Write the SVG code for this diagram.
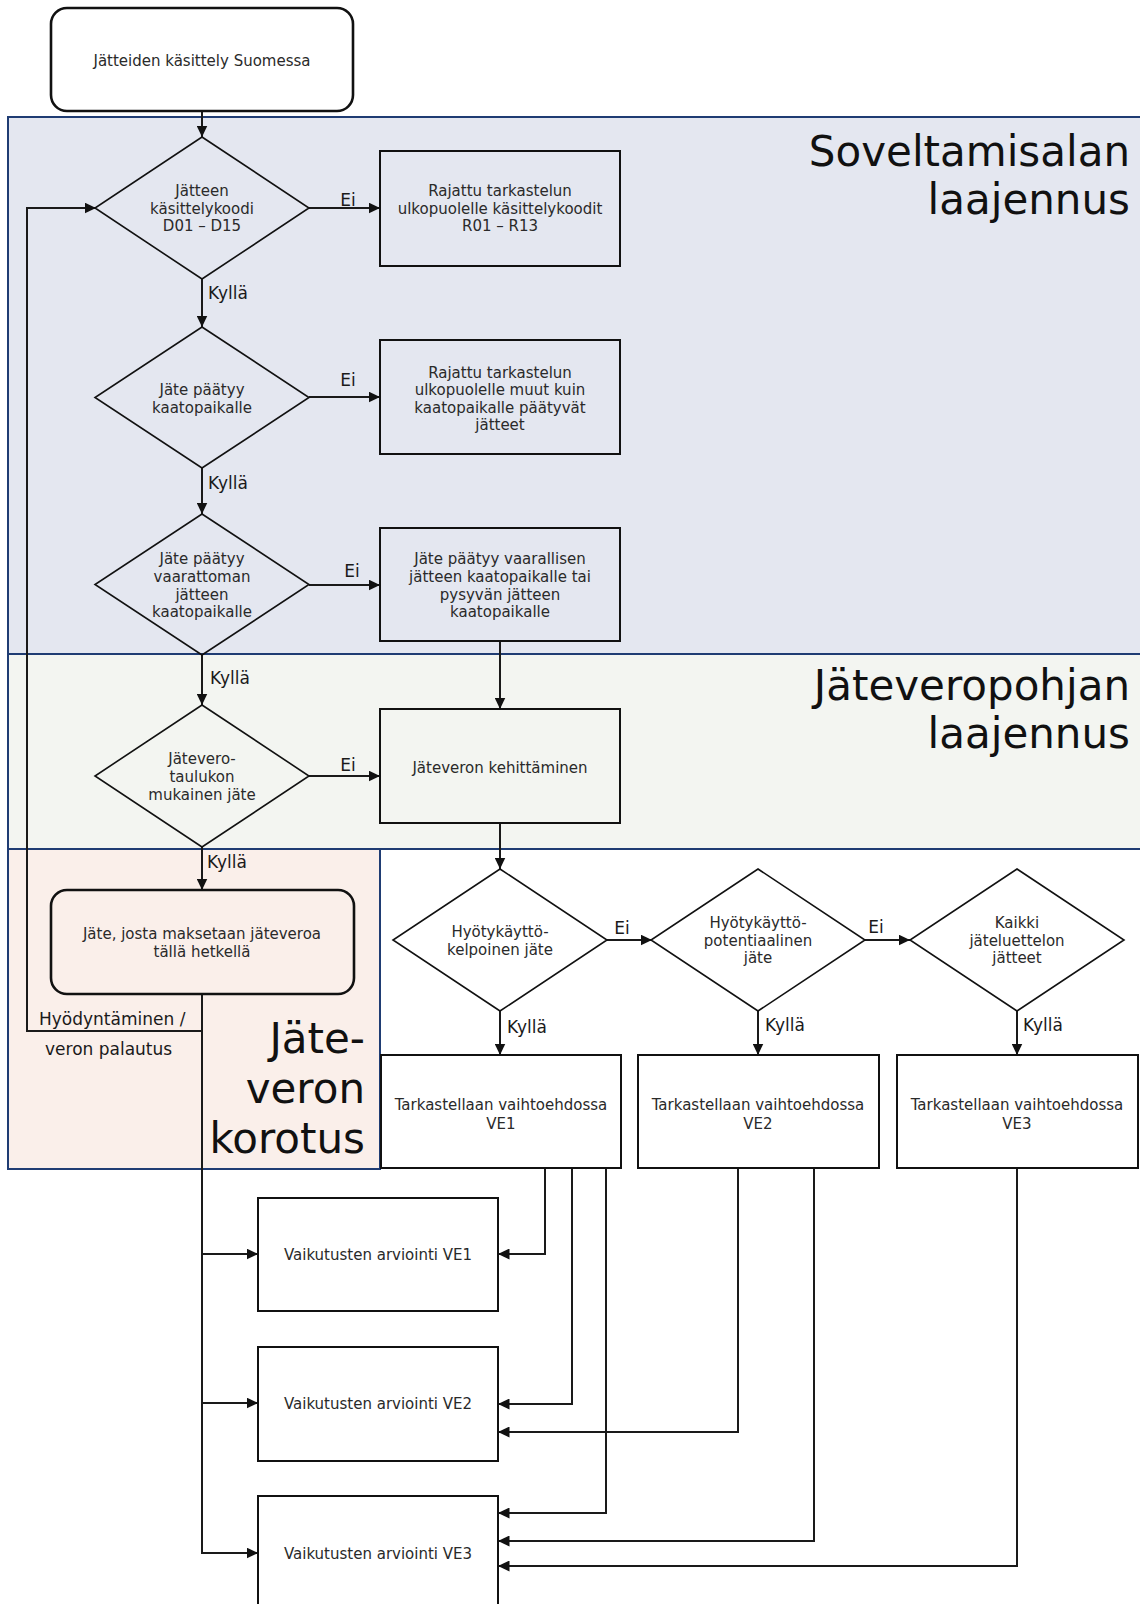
<svg xmlns="http://www.w3.org/2000/svg" width="1140" height="1604" viewBox="0 0 1140 1604">
<defs>
<marker id="ah" markerUnits="userSpaceOnUse" markerWidth="12" markerHeight="11" refX="11.5" refY="5.5" orient="auto">
<path d="M0,0 L11.5,5.5 L0,11 z" fill="#111"/>
</marker>
<style>
.reg{stroke:#1F3C73;stroke-width:2}
.box{fill:none;stroke:#111;stroke-width:2}
.rbox{stroke:#111;stroke-width:2.6}
.dia{fill:none;stroke:#111;stroke-width:1.6}
.con{fill:none;stroke:#1a1a1a;stroke-width:2;marker-end:url(#ah)}
.ln{fill:none;stroke:#1a1a1a;stroke-width:2}
.t{font-family:"DejaVu Sans",Verdana,sans-serif;font-size:15px;fill:#2a2a2a;text-anchor:middle}
.lb{font-family:"DejaVu Sans",Verdana,sans-serif;font-size:17px;fill:#1a1a1a}
.big{font-family:"DejaVu Sans",Verdana,sans-serif;font-size:42px;fill:#111;text-anchor:end}
</style>
</defs>
<rect width="1140" height="1604" fill="#fff"/>
<g id="regions">
<rect class="reg" x="8" y="117" width="1140" height="537" fill="#E4E7F0"/>
<rect class="reg" x="8" y="654" width="1140" height="195" fill="#F3F5F1"/>
<rect class="reg" x="8" y="849" width="372" height="320" fill="#FAEFEA"/>
<text class="big" x="1130" y="166">Soveltamisalan</text>
<text class="big" x="1130" y="214">laajennus</text>
<text class="big" x="1130" y="700">Jäteveropohjan</text>
<text class="big" x="1130" y="748">laajennus</text>
<text class="big" x="365" y="1053">Jäte-</text>
<text class="big" x="365" y="1103">veron</text>
<text class="big" x="365" y="1153">korotus</text>
</g>
<g id="connectors">
<path class="con" d="M202,111 V137"/>
<path class="con" d="M309,208 H380"/>
<path class="con" d="M202,279 V327"/>
<path class="con" d="M309,397 H380"/>
<path class="con" d="M202,468 V514"/>
<path class="con" d="M309,585 H380"/>
<path class="con" d="M202,655 V705"/>
<path class="con" d="M500,641 V709"/>
<path class="con" d="M309,776 H380"/>
<path class="con" d="M202,847 V890"/>
<path class="con" d="M202,1031 H27 V208 H96"/>
<path class="con" d="M202,994 V1553 H258"/>
<path class="con" d="M202,1254 H258"/>
<path class="con" d="M202,1403 H258"/>
<path class="con" d="M500,823 V869"/>
<path class="con" d="M607,940 H652"/>
<path class="con" d="M865,940 H910"/>
<path class="con" d="M500,1011 V1055"/>
<path class="con" d="M758,1011 V1055"/>
<path class="con" d="M1017,1011 V1055"/>
<path class="con" d="M545,1168 V1254 H498"/>
<path class="con" d="M572,1168 V1404 H498"/>
<path class="con" d="M606,1168 V1513 H498"/>
<path class="con" d="M738,1168 V1432 H498"/>
<path class="con" d="M814,1168 V1541 H498"/>
<path class="con" d="M1017,1168 V1566 H498"/>
<text class="lb" x="348" y="206" text-anchor="middle">Ei</text>
<text class="lb" x="348" y="386" text-anchor="middle">Ei</text>
<text class="lb" x="352" y="577" text-anchor="middle">Ei</text>
<text class="lb" x="348" y="771" text-anchor="middle">Ei</text>
<text class="lb" x="622" y="934" text-anchor="middle">Ei</text>
<text class="lb" x="876" y="933" text-anchor="middle">Ei</text>
<text class="lb" x="208" y="299">Kyllä</text>
<text class="lb" x="208" y="489">Kyllä</text>
<text class="lb" x="210" y="684">Kyllä</text>
<text class="lb" x="207" y="868">Kyllä</text>
<text class="lb" x="507" y="1033">Kyllä</text>
<text class="lb" x="765" y="1031">Kyllä</text>
<text class="lb" x="1023" y="1031">Kyllä</text>
<text class="lb" x="39" y="1025">Hyödyntäminen /</text>
<text class="lb" x="45" y="1055">veron palautus</text>
</g>
<g id="start">
<rect class="rbox" x="51" y="8" width="302" height="103" rx="16" fill="#fff"/>
<text class="t" x="202" y="66">Jätteiden käsittely Suomessa</text>
</g>
<g id="d1">
<path class="dia" d="M202,137 L309,208 L202,279 L95,208 z"/>
<text class="t" x="202" y="196">Jätteen</text>
<text class="t" x="202" y="213.5">käsittelykoodi</text>
<text class="t" x="202" y="231">D01 – D15</text>
</g>
<g id="r1">
<rect class="box" x="380" y="151" width="240" height="115"/>
<text class="t" x="500" y="196">Rajattu tarkastelun</text>
<text class="t" x="500" y="213.5">ulkopuolelle käsittelykoodit</text>
<text class="t" x="500" y="231">R01 – R13</text>
</g>
<g id="d2">
<path class="dia" d="M202,327 L309,397.5 L202,468 L95,397.5 z"/>
<text class="t" x="202" y="394.5">Jäte päätyy</text>
<text class="t" x="202" y="412.5">kaatopaikalle</text>
</g>
<g id="r2">
<rect class="box" x="380" y="340" width="240" height="114"/>
<text class="t" x="500" y="377.5">Rajattu tarkastelun</text>
<text class="t" x="500" y="395">ulkopuolelle muut kuin</text>
<text class="t" x="500" y="412.5">kaatopaikalle päätyvät</text>
<text class="t" x="500" y="430">jätteet</text>
</g>
<g id="d3">
<path class="dia" d="M202,514 L309,584.5 L202,655 L95,584.5 z"/>
<text class="t" x="202" y="563.5">Jäte päätyy</text>
<text class="t" x="202" y="582">vaarattoman</text>
<text class="t" x="202" y="599.5">jätteen</text>
<text class="t" x="202" y="617">kaatopaikalle</text>
</g>
<g id="r3">
<rect class="box" x="380" y="528" width="240" height="113"/>
<text class="t" x="500" y="563.5">Jäte päätyy vaarallisen</text>
<text class="t" x="500" y="582">jätteen kaatopaikalle tai</text>
<text class="t" x="500" y="599.5">pysyvän jätteen</text>
<text class="t" x="500" y="617">kaatopaikalle</text>
</g>
<g id="d4">
<path class="dia" d="M202,705 L309,776 L202,847 L95,776 z"/>
<text class="t" x="202" y="763.5">Jätevero-</text>
<text class="t" x="202" y="782">taulukon</text>
<text class="t" x="202" y="800">mukainen jäte</text>
</g>
<g id="r4">
<rect class="box" x="380" y="709" width="240" height="114"/>
<text class="t" x="500" y="772.5">Jäteveron kehittäminen</text>
</g>
<g id="current">
<rect class="rbox" x="51" y="890" width="303" height="104" rx="16" fill="#FAEFEA"/>
<text class="t" x="202" y="938.5">Jäte, josta maksetaan jäteveroa</text>
<text class="t" x="202" y="957">tällä hetkellä</text>
</g>
<g id="d5">
<path class="dia" d="M500,869 L607,940 L500,1011 L393,940 z"/>
<text class="t" x="500" y="936.5">Hyötykäyttö-</text>
<text class="t" x="500" y="954.5">kelpoinen jäte</text>
</g>
<g id="d6">
<path class="dia" d="M758,869 L865,940 L758,1011 L651,940 z"/>
<text class="t" x="758" y="927.5">Hyötykäyttö-</text>
<text class="t" x="758" y="945.5">potentiaalinen</text>
<text class="t" x="758" y="962.5">jäte</text>
</g>
<g id="d7">
<path class="dia" d="M1017,869 L1124,940 L1017,1011 L910,940 z"/>
<text class="t" x="1017" y="927.5">Kaikki</text>
<text class="t" x="1017" y="945.5">jäteluettelon</text>
<text class="t" x="1017" y="962.5">jätteet</text>
</g>
<g id="ve1">
<rect class="box" x="381" y="1055" width="240" height="113" fill="#fff"/>
<text class="t" x="501" y="1109.5">Tarkastellaan vaihtoehdossa</text>
<text class="t" x="501" y="1128.5">VE1</text>
</g>
<g id="ve2">
<rect class="box" x="638" y="1055" width="241" height="113" fill="#fff"/>
<text class="t" x="758" y="1109.5">Tarkastellaan vaihtoehdossa</text>
<text class="t" x="758" y="1128.5">VE2</text>
</g>
<g id="ve3">
<rect class="box" x="897" y="1055" width="241" height="113" fill="#fff"/>
<text class="t" x="1017" y="1109.5">Tarkastellaan vaihtoehdossa</text>
<text class="t" x="1017" y="1128.5">VE3</text>
</g>
<g id="eval1">
<rect class="box" x="258" y="1198" width="240" height="113"/>
<text class="t" x="378" y="1259.5">Vaikutusten arviointi VE1</text>
</g>
<g id="eval2">
<rect class="box" x="258" y="1347" width="240" height="114"/>
<text class="t" x="378" y="1409">Vaikutusten arviointi VE2</text>
</g>
<g id="eval3">
<rect class="box" x="258" y="1496" width="240" height="114"/>
<text class="t" x="378" y="1558.5">Vaikutusten arviointi VE3</text>
</g>
</svg>
